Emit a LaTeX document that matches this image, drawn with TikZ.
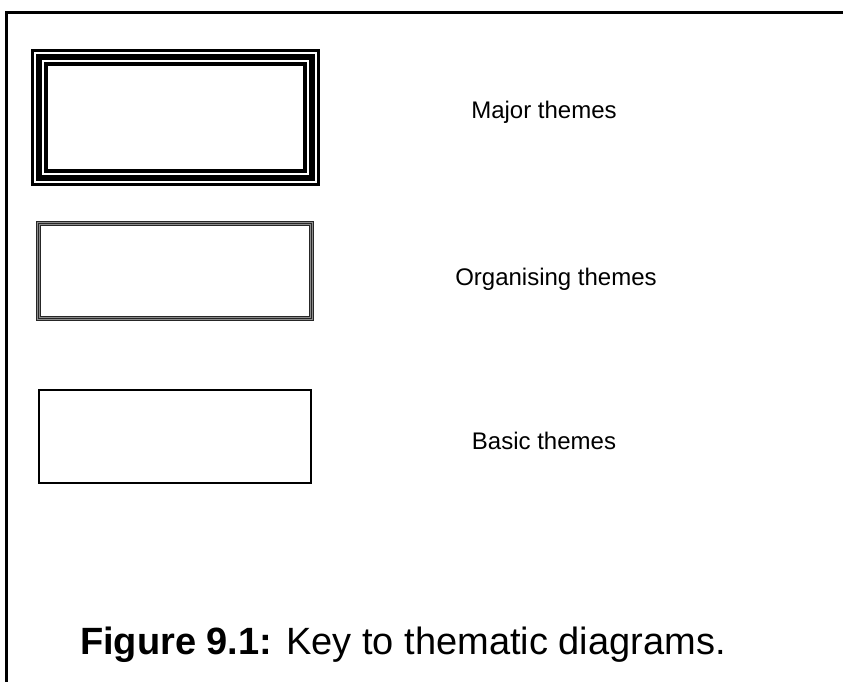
\documentclass[tikz,border=0pt]{standalone}
\usepackage{fontspec}
\setmainfont{Liberation Sans}
\begin{document}
\begin{tikzpicture}[x=1pt,y=-1pt,
  lbl/.style={anchor=base,inner sep=0pt,font=\fontsize{24}{28}\selectfont},
  captext/.style={anchor=base west,inner sep=0pt,font=\fontsize{38}{44}\selectfont}]
\useasboundingbox (0,0) rectangle (843,682);
\fill[white] (0,0) rectangle (843,682);
% outer frame
\coordinate (fb) at (6.5,682);
\coordinate (fc) at (6.5,12.5);
\coordinate (fr) at (843,12.5);
\draw[line width=2.2pt] (fb) -- (fc) -- (fr);
% Major themes box (31,49)-(320,186)
\node[draw=none,minimum width=289pt,minimum height=137pt,inner sep=0pt] (major) at (175.5,117.5) {};
\draw[line width=3.5pt] ([xshift=1.75pt,yshift=-1.75pt]major.north west) rectangle ([xshift=-1.75pt,yshift=1.75pt]major.south east);
\draw[line width=6pt] ([xshift=8.5pt,yshift=-8.5pt]major.north west) rectangle ([xshift=-8.5pt,yshift=8.5pt]major.south east);
\draw[line width=3.5pt] ([xshift=15.25pt,yshift=-15.25pt]major.north west) rectangle ([xshift=-15.25pt,yshift=15.25pt]major.south east);
% Organising themes box (36,221)-(314,321)
\node[draw=none,minimum width=278pt,minimum height=100pt,inner sep=0pt] (org) at (175,271) {};
\draw[line width=5.5pt,black!85] ([xshift=2.75pt,yshift=-2.75pt]org.north west) rectangle ([xshift=-2.75pt,yshift=2.75pt]org.south east);
\draw[line width=0.8pt,black!45] ([xshift=1.8pt,yshift=-1.8pt]org.north west) rectangle ([xshift=-1.8pt,yshift=1.8pt]org.south east);
\draw[line width=0.8pt,black!45] ([xshift=3.7pt,yshift=-3.7pt]org.north west) rectangle ([xshift=-3.7pt,yshift=3.7pt]org.south east);
% Basic themes box (38,389)-(312,484)
\node[draw=none,minimum width=274pt,minimum height=95pt,inner sep=0pt] (basic) at (175,436.5) {};
\draw[line width=2.5pt] ([xshift=1.25pt,yshift=-1.25pt]basic.north west) rectangle ([xshift=-1.25pt,yshift=1.25pt]basic.south east);
% labels
\node[lbl] (lmajor) at (544,119) {Major themes};
\node[lbl] (lorg) at (556,285) {Organising themes};
\node[lbl] (lbasic) at (544,449) {Basic themes};
% caption
\node[captext] (caption) at (80,654) {\textbf{Figure 9.1:} Key to thematic diagrams.};
\end{tikzpicture}
\end{document}
